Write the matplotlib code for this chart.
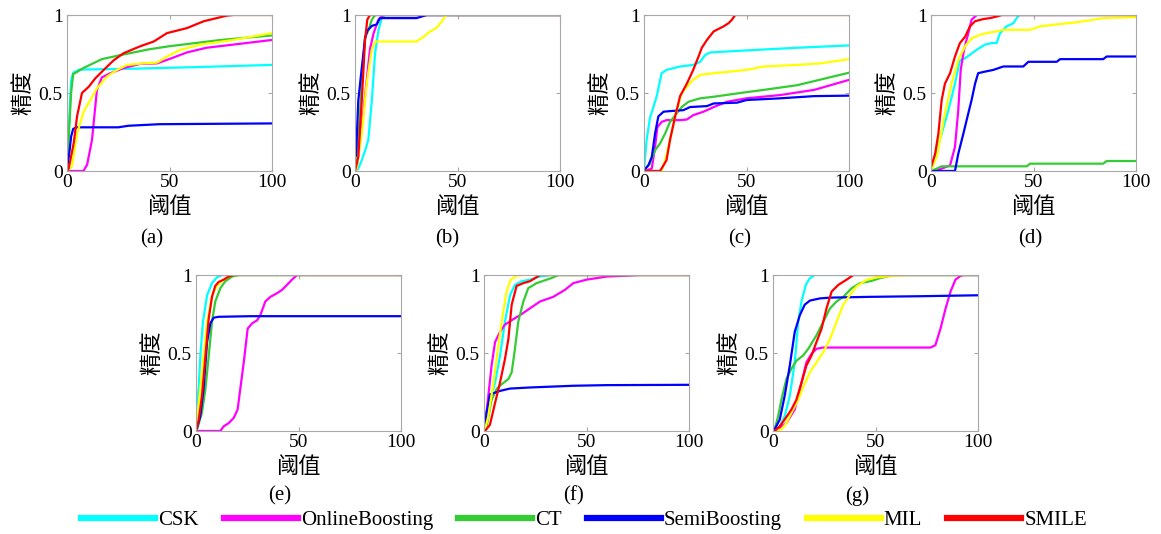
import matplotlib
matplotlib.use("Agg")
import matplotlib.pyplot as plt
from matplotlib.lines import Line2D

plt.rcParams['font.family'] = ['Liberation Serif', 'Noto Sans CJK SC', 'DejaVu Sans']

#%% data: (threshold, precision) vertices
methods = ['CSK', 'OnlineBoosting', 'CT', 'SemiBoosting', 'MIL', 'SMILE']
colors = ['#00ffff', '#ff00ff', '#33cc33', '#0000ff', '#ffff00', '#ff0000']
panel_names = ['(a)', '(b)', '(c)', '(d)', '(e)', '(f)', '(g)']
x_ticks = [0, 50, 100]
y_ticks = [0, 0.5, 1]
y_ticklabels = ['0', '0.5', '1']

panel_a = {
    'CSK': ([0, 1, 2, 3, 6, 30, 60, 100],
            [0.05, 0.3, 0.58, 0.63, 0.65, 0.655, 0.665, 0.68]),
    'OnlineBoosting': ([0, 8, 9.8, 12.2, 14.6, 17, 21, 27.6, 35.8, 44, 50.4, 58.5, 68, 81, 100],
                       [0, 0, 0.04, 0.2, 0.52, 0.6, 0.626, 0.66, 0.687, 0.69, 0.72, 0.76, 0.79, 0.81, 0.84]),
    'CT': ([0, 1, 2, 3, 8, 17, 25, 40, 50, 65, 75, 100],
           [0.02, 0.25, 0.5, 0.62, 0.66, 0.717, 0.74, 0.78, 0.80, 0.824, 0.84, 0.869]),
    'SemiBoosting': ([0, 1, 2, 3, 5, 25, 30, 45, 100],
                     [0.02, 0.1, 0.22, 0.27, 0.28, 0.28, 0.29, 0.30, 0.305]),
    'MIL': ([0, 2.4, 4.9, 8.1, 11.4, 14.6, 19.5, 24.4, 29.3, 37.4, 44, 48.8, 55.3, 65, 81, 100],
            [0, 0.03, 0.24, 0.38, 0.455, 0.53, 0.605, 0.648, 0.68, 0.69, 0.695, 0.734, 0.777, 0.81, 0.84, 0.884]),
    'SMILE': ([0, 0.8, 3.3, 4.9, 7.3, 10.6, 13.8, 17.9, 22.8, 27.6, 35.8, 42.3, 48.8, 58.5, 66.7, 78, 81.3, 100],
              [0, 0.015, 0.18, 0.35, 0.5, 0.54, 0.594, 0.648, 0.71, 0.755, 0.8, 0.83, 0.884, 0.916, 0.96, 0.996, 1, 1]),
}

panel_b = {
    'CSK': ([0, 1.6, 3.3, 4.9, 6.5, 8.2, 9.8, 11.4, 13, 14.7, 100],
            [0, 0.015, 0.07, 0.13, 0.2, 0.45, 0.755, 0.9, 0.98, 1, 1]),
    'OnlineBoosting': ([0, 0.8, 3.3, 5.7, 7.3, 9, 11.4, 13.9, 100],
                       [0, 0.015, 0.28, 0.58, 0.78, 0.88, 0.97, 1, 1]),
    'CT': ([0, 0.8, 3.3, 4.9, 6.5, 8.2, 9.8, 100],
           [0, 0.025, 0.56, 0.86, 0.9, 0.97, 1, 1]),
    'SemiBoosting': ([0.5, 1.6, 2.8, 4.9, 6, 8.2, 10.6, 12.2, 30, 35, 100],
                     [0.1, 0.45, 0.6, 0.85, 0.9, 0.93, 0.94, 0.98, 0.98, 1, 1]),
    'MIL': ([0, 0.8, 3.3, 5.7, 8.2, 9.8, 30, 33.4, 36.7, 40, 42.4, 44.5, 100],
            [0, 0.015, 0.24, 0.56, 0.78, 0.83, 0.83, 0.86, 0.895, 0.92, 0.96, 1, 1]),
    'SMILE': ([0, 1.6, 3.3, 4.9, 6, 7.3, 100],
              [0, 0.09, 0.45, 0.84, 0.97, 1, 1]),
}

panel_c = {
    'CSK': ([0.2, 1.3, 2.9, 4.6, 6.2, 8.6, 11, 17.6, 24, 27.4, 29.9, 32.3, 50, 74.7, 100],
            [0.036, 0.2, 0.34, 0.41, 0.48, 0.627, 0.648, 0.67, 0.68, 0.70, 0.745, 0.76, 0.773, 0.79, 0.805]),
    'OnlineBoosting': ([0, 3.8, 5.4, 6.5, 8.6, 11, 17.6, 20.9, 24, 29, 34, 40.5, 50, 66.5, 83, 100],
                       [0, 0.015, 0.155, 0.28, 0.315, 0.326, 0.326, 0.33, 0.358, 0.38, 0.41, 0.444, 0.466, 0.487, 0.52, 0.584]),
    'CT': ([0, 2.9, 5.4, 7.8, 10.3, 12.7, 16, 18.4, 21.7, 27.4, 34, 47, 58.4, 74.7, 100],
           [0.005, 0.047, 0.133, 0.176, 0.24, 0.315, 0.37, 0.41, 0.444, 0.466, 0.476, 0.5, 0.52, 0.55, 0.63]),
    'SemiBoosting': ([0, 2.1, 3.8, 5.4, 7, 9.5, 12.7, 19.2, 22.5, 30.7, 34, 45.4, 50, 66.5, 83, 100],
                     [0.005, 0.036, 0.09, 0.24, 0.35, 0.38, 0.384, 0.39, 0.41, 0.416, 0.433, 0.438, 0.455, 0.466, 0.48, 0.483]),
    'MIL': ([0, 8.6, 10.3, 12.7, 15.2, 18.4, 20.9, 24, 27.4, 34, 42, 50, 58.4, 74.7, 86, 100],
            [0, 0, 0.07, 0.2, 0.35, 0.5, 0.54, 0.584, 0.616, 0.627, 0.637, 0.648, 0.67, 0.68, 0.69, 0.717]),
    'SMILE': ([0, 7.8, 9.5, 11, 12.7, 15.2, 17.6, 20.9, 24, 26.6, 28.2, 30.7, 34, 38.8, 41.3, 42.9, 44.5, 100],
              [0, 0, 0.036, 0.07, 0.2, 0.35, 0.48, 0.56, 0.648, 0.734, 0.79, 0.84, 0.895, 0.927, 0.948, 0.97, 1, 1]),
}

panel_d = {
    'CSK': ([0.3, 2.8, 5.2, 8.5, 11.7, 14.1, 16.6, 19, 22.3, 26.3, 29.6, 32, 33.7, 36.9, 40.2, 41.8, 43, 100],
            [0.015, 0.133, 0.24, 0.39, 0.56, 0.71, 0.723, 0.745, 0.777, 0.81, 0.82, 0.82, 0.884, 0.927, 0.948, 0.98, 1, 1]),
    'OnlineBoosting': ([0, 5.2, 9.3, 11.7, 13.3, 14.5, 16.1, 18.2, 19.8, 22.3, 100],
                       [0, 0.015, 0.036, 0.155, 0.39, 0.648, 0.777, 0.884, 0.97, 1, 1]),
    'CT': ([0, 2.8, 5.2, 46.7, 48.3, 84, 85.7, 100],
           [0, 0.015, 0.03, 0.03, 0.047, 0.047, 0.064, 0.064]),
    'SemiBoosting': ([0, 11.7, 13.3, 15.8, 18.2, 19.8, 21.5, 23, 26.3, 30.4, 35.3, 45, 47.5, 61.3, 63, 84, 85.7, 100],
                     [0, 0, 0.11, 0.24, 0.37, 0.455, 0.56, 0.627, 0.637, 0.648, 0.67, 0.67, 0.70, 0.70, 0.717, 0.717, 0.734, 0.734]),
    'MIL': ([0, 2.8, 4.4, 6.8, 10, 13.3, 16.6, 19.8, 23.9, 27.2, 32, 35.3, 48.3, 53.2, 61.3, 71, 84, 100],
            [0.005, 0.09, 0.2, 0.37, 0.56, 0.71, 0.8, 0.85, 0.873, 0.884, 0.895, 0.905, 0.905, 0.927, 0.94, 0.953, 0.98, 0.987]),
    'SMILE': ([0.3, 2, 3.6, 5.2, 6.8, 9.3, 11.7, 14.1, 16.6, 19, 21.5, 25.5, 28.8, 32, 34.5, 100],
              [0.036, 0.11, 0.24, 0.455, 0.56, 0.627, 0.734, 0.82, 0.86, 0.927, 0.96, 0.974, 0.98, 0.99, 1, 1]),
}

panel_e = {
    'CSK': ([0, 1.3, 2.1, 3.4, 5.4, 7.8, 10.2, 12.7, 100],
            [0.127, 0.27, 0.48, 0.70, 0.87, 0.948, 0.985, 1, 1]),
    'OnlineBoosting': ([0, 11.9, 13.5, 15.9, 18.4, 20.3, 21.6, 23.3, 25.2, 27.3, 29.8, 31.4, 33.8, 36.3, 39.5, 42, 44.4, 46.8, 49.3, 100],
                       [0, 0, 0.03, 0.05, 0.084, 0.138, 0.27, 0.44, 0.656, 0.689, 0.71, 0.743, 0.83, 0.86, 0.883, 0.905, 0.937, 0.97, 1, 1]),
    'CT': ([0.5, 2.9, 4.6, 6.2, 7.8, 9.4, 11.9, 14.3, 17.6, 20.8, 100],
           [0.01, 0.117, 0.27, 0.48, 0.70, 0.83, 0.916, 0.96, 0.99, 1, 1]),
    'SemiBoosting': ([0.5, 2.1, 3.7, 5.4, 7, 8.6, 11, 26.5, 100],
                     [0.02, 0.095, 0.27, 0.57, 0.69, 0.726, 0.732, 0.736, 0.736]),
    'MIL': ([0.5, 1.8, 3.7, 5.4, 7.8, 10.2, 13.5, 16.7, 100],
            [0.04, 0.225, 0.48, 0.70, 0.87, 0.93, 0.97, 1, 1]),
    'SMILE': ([0, 1.3, 2.9, 4.6, 6.2, 7.8, 9.4, 11, 13.5, 15.9, 18.4, 100],
              [0, 0.07, 0.225, 0.48, 0.72, 0.86, 0.93, 0.955, 0.97, 0.99, 1, 1]),
}

panel_f = {
    'CSK': ([0.3, 1.3, 2.9, 5.4, 7.8, 10.2, 12.7, 15.1, 18.4, 22.4, 27.3, 32.2, 100],
            [0.127, 0.05, 0.2, 0.31, 0.48, 0.70, 0.87, 0.937, 0.96, 0.97, 0.99, 1, 1]),
    'OnlineBoosting': ([0.5, 2.1, 3.7, 5.4, 7.8, 10.2, 13.5, 17.6, 22.4, 27.3, 33.8, 39.5, 43.6, 50, 59.8, 76, 100],
                       [0.03, 0.225, 0.42, 0.57, 0.635, 0.682, 0.71, 0.743, 0.786, 0.83, 0.86, 0.905, 0.948, 0.97, 0.99, 1, 1]),
    'CT': ([1.3, 3.7, 6.2, 8.6, 11.9, 13.5, 15.1, 16.7, 19.2, 21.6, 25.7, 30.6, 33.8, 36.3, 100],
           [0.03, 0.2, 0.27, 0.3, 0.333, 0.376, 0.527, 0.70, 0.83, 0.916, 0.948, 0.97, 0.985, 1, 1]),
    'SemiBoosting': ([0.5, 1.3, 2.9, 5.4, 7.8, 12.7, 22.4, 43.6, 59.8, 100],
                     [0.03, 0.117, 0.235, 0.246, 0.257, 0.272, 0.279, 0.29, 0.294, 0.296]),
    'MIL': ([0.5, 2.1, 4.6, 7, 9.4, 11, 13, 15.9, 19.2, 100],
            [0.01, 0.095, 0.31, 0.55, 0.765, 0.894, 0.97, 0.995, 1, 1]),
    'SMILE': ([0.5, 2.9, 5.4, 7.8, 10.2, 11.9, 13.5, 15.9, 19.2, 22.4, 24.9, 27.3, 100],
              [0, 0.04, 0.18, 0.31, 0.46, 0.59, 0.81, 0.93, 0.948, 0.96, 0.98, 1, 1]),
}

panel_g = {
    'CSK': ([0.8, 3.3, 5.7, 8.2, 10.6, 12.3, 13.9, 16, 18, 20.4, 100],
            [0, 0.03, 0.095, 0.225, 0.44, 0.70, 0.83, 0.937, 0.98, 1, 1]),
    'OnlineBoosting': ([0.8, 6.5, 10.6, 13.9, 16.3, 18.8, 21.2, 24.5, 39.2, 76.8, 79.2, 81.7, 84.2, 86.6, 89, 91.5, 93.1, 100],
                       [0, 0.05, 0.138, 0.31, 0.44, 0.495, 0.527, 0.535, 0.535, 0.535, 0.55, 0.656, 0.786, 0.894, 0.97, 0.995, 1, 1]),
    'CT': ([0.8, 2.5, 4.1, 6.5, 9, 11.4, 14.7, 17.2, 21.2, 24.5, 27.8, 31, 34.3, 38.4, 42.5, 47.4, 52.3, 58.8, 100],
           [0.01, 0.095, 0.2, 0.333, 0.40, 0.45, 0.484, 0.527, 0.613, 0.70, 0.786, 0.83, 0.86, 0.916, 0.948, 0.96, 0.98, 1, 1]),
    'SemiBoosting': ([0.8, 3.3, 5.7, 8.2, 10.6, 13.1, 15.5, 18, 22.9, 27.8, 47.4, 72, 100],
                     [0.01, 0.074, 0.225, 0.42, 0.635, 0.743, 0.81, 0.836, 0.85, 0.855, 0.86, 0.864, 0.87]),
    'MIL': ([0.8, 4.1, 6.5, 9, 12.3, 14.7, 18, 21.2, 24.5, 27.8, 31, 34.3, 37.6, 40.8, 45.8, 50.7, 58.8, 65.4, 100],
            [0, 0.01, 0.05, 0.117, 0.2, 0.28, 0.376, 0.44, 0.505, 0.59, 0.70, 0.81, 0.873, 0.927, 0.97, 0.985, 0.995, 1, 1]),
    'SMILE': ([0.8, 3.3, 5.7, 9, 11.4, 13.9, 16.3, 18.8, 21.2, 23.7, 26.1, 28.6, 31.9, 35.9, 39.2, 100],
              [0, 0.03, 0.074, 0.138, 0.2, 0.31, 0.42, 0.484, 0.57, 0.656, 0.786, 0.894, 0.937, 0.97, 1, 1]),
}

panels = [panel_a, panel_b, panel_c, panel_d, panel_e, panel_f, panel_g]

#%% layout (pixels in a 1161x534 canvas)
W, H = 1161, 534
ax_px = [(67, 15), (355, 15), (644, 15), (931, 15),
         (196, 275), (484, 275), (773, 275)]
ax_w, ax_h = 205, 156
label_px = [(152, 239), (447, 239), (740, 239), (1030, 239),
            (280, 496), (574, 496), (857, 496)]

fig = plt.figure(figsize=(W / 100, H / 100), dpi=100)

for data, (px, py), name, (lx, ly) in zip(panels, ax_px, panel_names, label_px):
    ax = fig.add_axes([px / W, 1 - (py + ax_h) / H, ax_w / W, ax_h / H])
    for m, c in zip(methods, colors):
        xs, ys = data[m]
        ax.plot(xs, ys, color=c, lw=1.6, solid_joinstyle='round')
    ax.set_xlim(0, 100)
    ax.set_ylim(0, 1)
    ax.set_xticks(x_ticks)
    ax.set_yticks(y_ticks)
    ax.set_yticklabels(y_ticklabels)
    ax.tick_params(direction='in', length=3, width=0.8, color='#a8a8a8',
                   labelsize=14, top=True, right=True, pad=2)
    ax.tick_params(axis='y', pad=3)
    for lab in ax.get_xticklabels() + ax.get_yticklabels():
        lab.set_family('Liberation Serif')
    for s in ax.spines.values():
        s.set_color('#a8a8a8')
        s.set_linewidth(0.8)
    ax.set_xlabel('阈值', fontsize=16, family=['Noto Sans CJK SC'], labelpad=3)
    ax.set_ylabel('精度', fontsize=16, family=['Noto Sans CJK SC'], labelpad=3)
    fig.text(lx / W, 1 - ly / H, name, fontsize=15, ha='center', va='center')

handles = [Line2D([], [], color=c, lw=4.5) for c in colors]
fig.legend(handles, methods, loc='center', bbox_to_anchor=(584 / W, 1 - 520 / H),
           ncol=6, frameon=False, fontsize=15, handlelength=3.55,
           handletextpad=0.15, columnspacing=1.2, borderpad=0)

fig.savefig('out.png', dpi=100)
